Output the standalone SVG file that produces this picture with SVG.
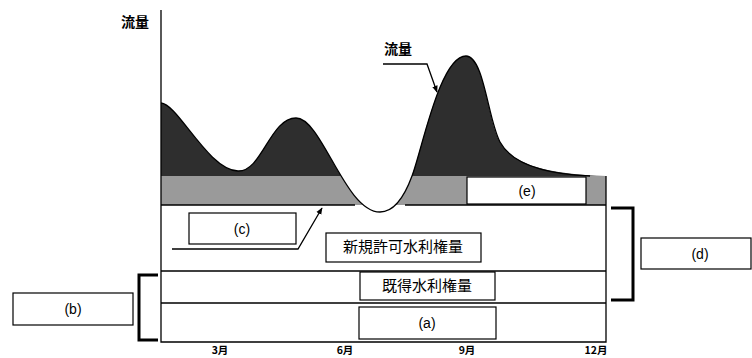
<svg xmlns="http://www.w3.org/2000/svg" width="752" height="358" viewBox="0 0 752 358">
<style>
.jp{font-family:"Noto Sans CJK JP","Noto Sans",sans-serif;fill:#000}
.lb{font-family:"Liberation Sans",Arial,sans-serif;font-size:14px;fill:#000;text-anchor:middle}
.box{fill:#fff;stroke:#000;stroke-width:1.2}
.ln{stroke:#000;stroke-width:1.3;fill:none}
.br{stroke:#000;stroke-width:3;fill:none}
.mo{font-family:"Noto Sans CJK JP","Noto Sans",sans-serif;font-size:10.5px;font-weight:bold;fill:#000;text-anchor:middle}
</style>
<defs>
<marker id="ah" viewBox="0 0 10 10" refX="9" refY="5" markerWidth="7" markerHeight="7" orient="auto" markerUnits="userSpaceOnUse">
<path d="M0,1 L10,5 L0,9 Z" fill="#000"/>
</marker>
<clipPath id="cDark"><rect x="161" y="0" width="446" height="176"/></clipPath>
<clipPath id="cGray"><rect x="161" y="176" width="446" height="29"/></clipPath>
<path id="flow" d="M161,205 L161,103 C178,104 208,170 238,171 C262,172 270,118 296,118 C322,118 345,212 380,212 C395,212 405,195 412,176 C422,150 440,56 466,56 C484,56 488,120 500,142 C512,164 545,174 606,176 L606,205 Z"/>
</defs>
<g id="chart">
<use href="#flow" fill="#9a9a9a" clip-path="url(#cGray)"/>
<use href="#flow" fill="#2e2e2e" clip-path="url(#cDark)"/>
<path class="ln" d="M161,103 C178,104 208,170 238,171 C262,172 270,118 296,118 C322,118 345,212 380,212 C395,212 405,195 412,176 C422,150 440,56 466,56 C484,56 488,120 500,142 C512,164 545,174 590,176"/>
<path class="ln" d="M161,10 V342 H606 V176"/>
<path class="ln" d="M161,205 H355 M405,205 H606 M161,271 H606 M161,303 H606"/>
</g>
<g id="e"><rect class="box" x="467" y="177" width="119" height="27"/><text class="lb" x="527" y="196">(e)</text></g>
<g id="c"><rect class="box" x="189" y="213" width="107" height="31"/><text class="lb" x="242" y="234">(c)</text></g>
<g id="shinki"><rect class="box" x="326" y="233" width="155" height="29"/><text class="jp" x="403" y="252" font-size="15" text-anchor="middle">新規許可水利権量</text></g>
<g id="kitoku"><rect class="box" x="360" y="272" width="135" height="28"/><text class="jp" x="427" y="291" font-size="15" text-anchor="middle">既得水利権量</text></g>
<g id="a"><rect class="box" x="359" y="307" width="137" height="32"/><text class="lb" x="427" y="328">(a)</text></g>
<g id="b"><rect class="box" x="13" y="293" width="120" height="32"/><text class="lb" x="73" y="314">(b)</text></g>
<g id="d"><rect class="box" x="641" y="238" width="110" height="31"/><text class="lb" x="700" y="259">(d)</text></g>
<g id="connectors">
<path class="br" d="M158,275 H139 V340 H158"/>
<path class="br" d="M611,208 H633 V300 H611"/>
<polyline class="ln" points="172,249 298,249 322,208" marker-end="url(#ah)"/>
<polyline class="ln" points="383,64 427,64 437,92" marker-end="url(#ah)"/>
</g>
<g id="labels">
<text class="jp" x="135" y="27" font-size="14" font-weight="bold" text-anchor="middle">流量</text>
<text class="jp" x="398" y="54" font-size="14" font-weight="bold" text-anchor="middle">流量</text>
<text class="mo" x="220" y="354">3月</text>
<text class="mo" x="345" y="354">6月</text>
<text class="mo" x="467" y="354">9月</text>
<text class="mo" x="596" y="354">12月</text>
</g>
</svg>
